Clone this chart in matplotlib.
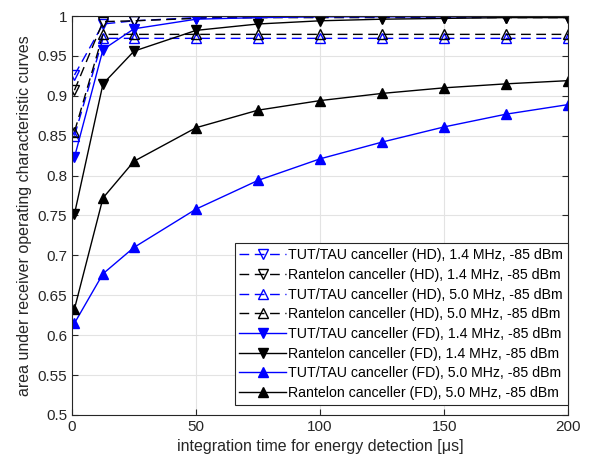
import matplotlib
matplotlib.use('Agg')
import matplotlib.pyplot as plt

# integration times [us]
t = [1, 12.5, 25, 50, 75, 100, 125, 150, 175, 200]

# AUC values per canceller / mode / bandwidth
tut_hd_14 = [0.926, 0.990, 0.994, 0.998, 0.999, 0.999, 0.999, 0.999, 0.999, 0.999]
ran_hd_14 = [0.907, 0.993, 0.994, 0.997, 0.998, 0.998, 0.998, 0.998, 0.998, 0.998]
tut_hd_50 = [0.850, 0.972, 0.972, 0.972, 0.972, 0.972, 0.972, 0.972, 0.972, 0.972]
ran_hd_50 = [0.855, 0.977, 0.977, 0.977, 0.977, 0.977, 0.977, 0.977, 0.977, 0.977]
tut_fd_14 = [0.823, 0.958, 0.984, 0.996, 0.998, 0.999, 0.999, 0.999, 0.999, 0.999]
ran_fd_14 = [0.752, 0.915, 0.956, 0.982, 0.990, 0.994, 0.996, 0.997, 0.998, 0.998]
tut_fd_50 = [0.615, 0.677, 0.710, 0.758, 0.794, 0.821, 0.842, 0.861, 0.877, 0.889]
ran_fd_50 = [0.633, 0.772, 0.818, 0.860, 0.882, 0.894, 0.903, 0.910, 0.915, 0.919]

labels = [
    'TUT/TAU canceller (HD), 1.4 MHz, -85 dBm',
    'Rantelon canceller (HD), 1.4 MHz, -85 dBm',
    'TUT/TAU canceller (HD), 5.0 MHz, -85 dBm',
    'Rantelon canceller (HD), 5.0 MHz, -85 dBm',
    'TUT/TAU canceller (FD), 1.4 MHz, -85 dBm',
    'Rantelon canceller (FD), 1.4 MHz, -85 dBm',
    'TUT/TAU canceller (FD), 5.0 MHz, -85 dBm',
    'Rantelon canceller (FD), 5.0 MHz, -85 dBm',
]

plt.rcParams['font.family'] = ['Liberation Sans', 'DejaVu Sans']

fig = plt.figure(figsize=(6, 4.71), dpi=100)
ax = fig.add_axes([0.12, 0.119, 0.827, 0.847])

blue = '#0000ff'
series = [
    (tut_hd_14, blue, '--', 'v', 'none'),
    (ran_hd_14, 'k', '--', 'v', 'none'),
    (tut_hd_50, blue, '--', '^', 'none'),
    (ran_hd_50, 'k', '--', '^', 'none'),
    (tut_fd_14, blue, '-', 'v', blue),
    (ran_fd_14, 'k', '-', 'v', 'k'),
    (tut_fd_50, blue, '-', '^', blue),
    (ran_fd_50, 'k', '-', '^', 'k'),
]
for (y, c, ls, m, fc), lab in zip(series, labels):
    ax.plot(t, y, color=c, linestyle=ls, dashes=(7, 4) if ls == '--' else (None, None),
            marker=m, markerfacecolor=fc, markeredgecolor=c, markersize=7,
            linewidth=1.0, label=lab)

ax.set_xlim(0, 200)
ax.set_ylim(0.5, 1.0)
ax.set_xticks([0, 50, 100, 150, 200])
yt = [0.5 + 0.05 * i for i in range(11)]
ax.set_yticks(yt)
ax.set_yticklabels(['%g' % round(v, 2) for v in yt])
ax.grid(True, color='#e3e3e3', linewidth=0.8)
ax.set_axisbelow(True)
ax.tick_params(direction='in', length=4, labelsize=11, colors='#262626',
               top=True, right=True)
for s in ax.spines.values():
    s.set_color('#262626')
    s.set_linewidth(0.8)

ax.set_xlabel('integration time for energy detection [\u03bcs]', fontsize=11.5, color='#262626')
ax.set_ylabel('area under receiver operating characteristic curves', fontsize=11.5, color='#262626')

leg = ax.legend(loc='lower right', bbox_to_anchor=(1.0, 0.025), fontsize=10.2,
                frameon=True, fancybox=False, edgecolor='#262626', framealpha=1,
                handlelength=3.3, borderpad=0.35, labelspacing=0.4,
                handletextpad=0.15, borderaxespad=0.0)
leg.get_frame().set_linewidth(0.8)

fig.savefig('out.png', dpi=100)
